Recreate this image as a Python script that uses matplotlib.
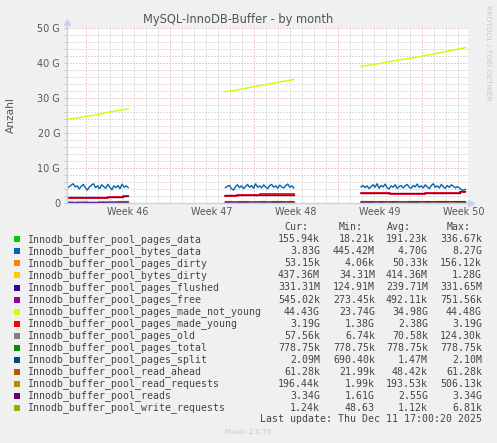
import numpy as np
import matplotlib.pyplot as plt
from matplotlib.patches import Rectangle

W, H = 497, 443

# ---------------- data (values in G) ----------------
names = ["Innodb_buffer_pool_pages_data", "Innodb_buffer_pool_bytes_data",
         "Innodb_buffer_pool_pages_dirty", "Innodb_buffer_pool_bytes_dirty",
         "Innodb_buffer_pool_pages_flushed", "Innodb_buffer_pool_pages_free",
         "Innodb_buffer_pool_pages_made_not_young", "Innodb_buffer_pool_pages_made_young",
         "Innodb_buffer_pool_pages_old", "Innodb_buffer_pool_pages_total",
         "Innodb_buffer_pool_pages_split", "Innodb_buffer_pool_read_ahead",
         "Innodb_buffer_pool_read_requests", "Innodb_buffer_pool_reads",
         "Innodb_buffer_pool_write_requests"]
colors = ["#00CC00", "#0066B3", "#FF8000", "#FFCC00", "#330099", "#990099", "#CCFF00",
          "#FF0000", "#808080", "#008F00", "#00487D", "#B35A00", "#B38F00", "#6B006B", "#8FB300"]
cur = ["155.94k", "3.83G", "53.15k", "437.36M", "331.31M", "545.02k", "44.43G", "3.19G",
       "57.56k", "778.75k", "2.09M", "61.28k", "196.44k", "3.34G", "1.24k"]
mins = ["18.21k", "445.42M", "4.06k", "34.31M", "124.91M", "273.45k", "23.74G", "1.38G",
        "6.74k", "778.75k", "690.40k", "21.99k", "1.99k", "1.61G", "48.63"]
avgs = ["191.23k", "4.70G", "50.33k", "414.36M", "239.71M", "492.11k", "34.98G", "2.38G",
        "70.58k", "778.75k", "1.47M", "48.42k", "193.53k", "2.55G", "1.12k"]
maxs = ["336.67k", "8.27G", "156.12k", "1.28G", "331.65M", "751.56k", "44.48G", "3.19G",
        "124.30k", "778.75k", "2.10M", "61.28k", "506.13k", "3.34G", "6.81k"]

# tiny series (avg, in G) -- flat at zero on this scale
tiny_idx = [0, 2, 5, 8, 9, 10, 11, 12, 14]
tiny_avg = [0.00019, 0.00005, 0.00049, 0.00007, 0.00078, 0.0015, 0.00005, 0.00019, 0.000001]

segments = [(0.0, 5.1), (13.2, 18.9), (24.5, 33.2)]   # days with data

bytes_data = [
    [4.2, 4.6, 5.1, 5.5, 4.6, 4.9, 4.0, 4.8, 5.3, 4.3, 3.7, 4.6, 5.1, 5.5, 4.4, 4.9,
     4.1, 5.2, 4.7, 4.2, 5.3, 4.5, 3.8, 4.9, 4.4, 5.0, 4.1, 5.4, 4.5, 4.9, 4.4],
    [4.4, 4.8, 5.0, 4.1, 3.7, 4.6, 5.2, 4.4, 4.9, 4.1, 4.7, 5.3, 4.5, 5.0, 4.2, 5.5,
     4.5, 4.9, 4.3, 5.2, 4.6, 4.1, 5.0, 5.3, 4.5, 4.9, 4.2, 5.1, 4.6, 4.3, 5.0, 5.4,
     4.5, 4.9, 4.3],
    [4.6, 5.0, 4.4, 4.9, 4.1, 4.7, 5.2, 4.5, 5.5, 4.2, 5.0, 4.6, 5.4, 4.4, 4.0, 4.9,
     4.5, 5.2, 4.2, 4.7, 5.0, 4.3, 4.9, 5.3, 4.5, 4.2, 5.0, 4.6, 5.4, 4.5, 4.9, 4.3,
     5.2, 4.6, 4.1, 5.0, 5.5, 4.5, 4.9, 4.3, 5.3, 4.6, 4.2, 5.0, 4.5, 5.2, 4.8, 4.3,
     4.7, 4.3, 3.8, 3.7, 3.9],
]
made_not_young = [
    [24.0, 24.3, 24.8, 25.3, 25.9, 26.4, 26.9],
    [31.8, 32.3, 32.9, 33.5, 34.1, 34.7, 35.3],
    [39.0, 39.8, 40.7, 41.5, 42.4, 43.4, 44.4],
]
made_young = [
    [1.45, 1.45, 1.45, 1.5, 1.5, 1.5, 1.5, 1.55, 1.8, 1.8, 1.8, 2.0, 2.0],
    [2.1, 2.1, 2.22, 2.22, 2.22, 2.28, 2.5, 2.5, 2.5, 2.5, 2.5, 2.55, 2.55],
    [2.74, 2.74, 2.74, 2.74, 2.74, 2.58, 2.58, 2.6, 2.6, 2.6, 2.62, 2.81, 2.81,
     2.84, 2.86, 2.86, 2.88, 3.19, 3.19],
]
reads = [
    [1.75, 1.75, 1.75, 1.75, 1.8, 1.8, 1.8, 1.8, 1.85, 1.85, 1.85, 2.05, 2.05],
    [2.3, 2.3, 2.25, 2.25, 2.25, 2.3, 2.35, 2.35, 2.35, 2.4, 2.4, 2.4, 2.4],
    [2.78, 2.78, 2.78, 2.78, 2.78, 2.8, 2.8, 2.8, 2.8, 2.8, 2.8, 2.85, 2.85,
     2.88, 2.9, 2.9, 2.92, 3.3, 3.34],
]
bytes_dirty = [
    [0.6, 0.3, 0.7, 0.7, 0.3, 0.3, 0.5, 0.3, 0.2, 0.3, 0.7, 0.6, 0.4],
    [0.6, 0.2, 0.6, 0.6, 0.2, 0.2, 0.7, 0.2, 0.6, 0.6, 0.2, 0.6, 0.2],
    [0.6, 0.6, 0.2, 0.6, 0.2, 0.6, 0.2, 0.2, 0.6, 0.6, 0.2, 0.6, 0.2, 0.6, 0.6,
     0.2, 0.6, 0.6, 0.2],
]
pages_flushed = [
    [0.13, 0.13, 0.14, 0.14, 0.15, 0.15, 0.16, 0.2, 0.25, 0.25, 0.26, 0.27, 0.27],
    [0.28, 0.28, 0.28, 0.28, 0.28, 0.29, 0.29, 0.29, 0.29, 0.29, 0.3, 0.3, 0.3],
    [0.3, 0.3, 0.3, 0.3, 0.31, 0.31, 0.31, 0.31, 0.31, 0.32, 0.32, 0.32, 0.32,
     0.32, 0.33, 0.33, 0.33, 0.33, 0.33],
]

week_labels = ["Week 46", "Week 47", "Week 48", "Week 49", "Week 50"]
week_label_pos = [5.08, 12.08, 19.08, 26.08, 33.08]
week_grid_start = 1.58

# ---------------- figure ----------------
fig = plt.figure(figsize=(W / 100, H / 100), dpi=100, facecolor="#F0F0F0")
ax = fig.add_axes([67 / W, 1 - 203 / H, 401 / W, 175 / H])
ax.set_facecolor("white")
XMAX = 401 / 12
ax.set_xlim(0, XMAX)
ax.set_ylim(0, 50)

# grid (dotted, 1px on / 2px off)
GLW = 0.72
for v in np.arange(2, 50.1, 2):
    major = abs(v % 10) < 1e-6
    ax.axhline(v, color="#E09A9A" if major else "#BDBDBD", lw=GLW,
               ls=(0, (1, 2)), zorder=0.5)
d = week_grid_start
k = 0
while d < XMAX:
    ax.axvline(d, color="#E09A9A" if k % 7 == 0 else "#BDBDBD", lw=GLW,
               ls=(0, (1, 2)), zorder=0.5)
    d += 1
    k += 1


def seg_t(s, n):
    a, b = segments[s]
    return np.linspace(a, b, n)


LW = 1.0
for s in range(3):
    for i, a in zip(tiny_idx, tiny_avg):
        ax.plot(segments[s], [a, a], color=colors[i], lw=LW, zorder=1)
    ax.plot(seg_t(s, len(bytes_data[s])), bytes_data[s], color=colors[1], lw=LW)
    ax.plot(seg_t(s, len(bytes_dirty[s])), bytes_dirty[s], color=colors[3], lw=LW,
            drawstyle="steps-post")
    ax.plot(seg_t(s, len(pages_flushed[s])), pages_flushed[s], color=colors[4], lw=LW)
    ax.plot(seg_t(s, len(made_not_young[s])), made_not_young[s], color=colors[6], lw=LW)
    ax.plot(seg_t(s, len(made_young[s])), made_young[s], color=colors[7], lw=LW * 1.3,
            drawstyle="steps-post")
    ax.plot(seg_t(s, len(reads[s])), reads[s], color=colors[13], lw=LW,
            drawstyle="steps-post")

# axes styling
axis_col = "#C8D0EE"
for sp in ["top", "right"]:
    ax.spines[sp].set_visible(False)
for sp in ["left", "bottom"]:
    ax.spines[sp].set_color(axis_col)
    ax.spines[sp].set_linewidth(1.0)
ax.plot([0, 0], [1, 1.035], color=axis_col, lw=1.0, transform=ax.transAxes, clip_on=False)
ax.plot(0, 1.035, marker="^", ms=4, color=axis_col, transform=ax.transAxes, clip_on=False)
ax.plot([1, 1.008], [0, 0], color=axis_col, lw=1.0, transform=ax.transAxes, clip_on=False)
ax.plot(1.008, 0, marker=">", ms=4, color=axis_col, transform=ax.transAxes, clip_on=False)

ax.set_yticks(np.arange(0, 51, 10))
ax.set_yticklabels(["0"] + [f"{v} G" for v in range(10, 51, 10)])
ax.set_yticks(np.arange(0, 51, 2), minor=True)
ax.set_xticks(week_label_pos)
ax.set_xticklabels(week_labels)
ax.tick_params(axis="y", which="both", length=2, width=0.6, color="#BBBBBB",
               labelsize=6.9, labelcolor="#555555", pad=3)
ax.tick_params(axis="x", length=0, labelsize=6.9, labelcolor="#555555", pad=3)


def fy(py):
    return 1 - py / H


fig.text(11 / W, fy(115), "Anzahl", rotation=90, ha="center", va="center",
         fontsize=7.7, color="#555555")
fig.text(238 / W, fy(19), "MySQL-InnoDB-Buffer - by month", ha="center", va="center",
         fontsize=8.3, color="#555555")
fig.text(488 / W, fy(53), "RRDTOOL / TOBI OETIKER", rotation=270, ha="center",
         va="center", fontsize=5.4, color="#C8C8C8")

# legend
mono = "DejaVu Sans Mono"
fs = 7.1
for xh, lab in zip([284, 339, 387, 447], ["Cur:", "Min:", "Avg:", "Max:"]):
    fig.text(xh / W, fy(227.3), lab, family=mono, fontsize=fs, color="#444444",
             ha="left", va="center")
for i, n in enumerate(names):
    y = 239.3 + 12.05 * i
    fig.patches.append(Rectangle((14 / W, fy(y + 3)), 6 / W, 6 / H, transform=fig.transFigure,
                                 facecolor=colors[i], edgecolor="none"))
    fig.text(26.7 / W, fy(y), n, family=mono, fontsize=fs, color="#444444",
             ha="left", va="center")
    for xr, col in zip([320, 375, 428, 482], [cur, mins, avgs, maxs]):
        fig.text(xr / W, fy(y), col[i], family=mono, fontsize=fs, color="#444444",
                 ha="right", va="center")
fig.text(482 / W, fy(419.3), "Last update: Thu Dec 11 17:00:20 2025", family=mono,
         fontsize=fs, color="#444444", ha="right", va="center")
fig.text(248 / W, fy(431.7), "Munin 2.0.73", fontsize=5.0, color="#C8C8C8",
         ha="center", va="center")

fig.savefig("out.png", dpi=100, facecolor=fig.get_facecolor())
